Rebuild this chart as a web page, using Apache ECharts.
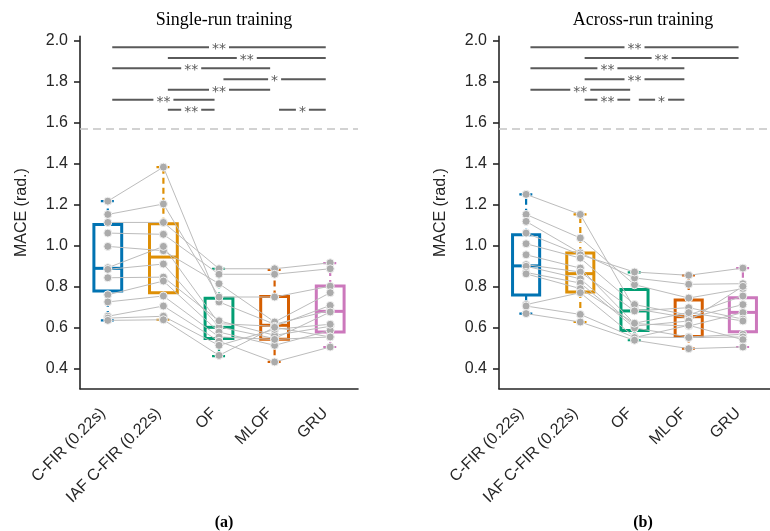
<!DOCTYPE html>
<html>
<head>
<meta charset="utf-8">
<script src="https://cdn.jsdelivr.net/npm/echarts@6/dist/echarts.min.js"></script>
<style>
  html, body { margin: 0; padding: 0; background: #fff; }
  #chart { width: 770px; height: 531px; }
</style>
</head>
<body>
<div id="chart"></div>
<script>
// categories and colours
const methods = ['C-FIR (0.22s)', 'IAF C-FIR (0.22s)', 'OF', 'MLOF', 'GRU'];
const colors = ['#0173B2', '#DE8F05', '#029E73', '#D55E00', '#CC78BC'];
const yTicks = [0.4, 0.6, 0.8, 1.0, 1.2, 1.4, 1.6, 1.8, 2.0];

// (a) single-run training, one value per subject (same order in every array)
const singleCFIR = [1.216, 1.151, 1.112, 1.060, 0.995, 0.891, 0.883, 0.842, 0.759, 0.724, 0.654, 0.645, 0.634];
const singleIAF  = [1.382, 1.202, 1.112, 1.054, 0.974, 0.995, 0.909, 0.845, 0.826, 0.753, 0.704, 0.654, 0.637];
const singleOF   = [0.724, 0.748, 0.886, 0.859, 0.813, 0.618, 0.602, 0.632, 0.577, 0.553, 0.532, 0.512, 0.463];
const singleMLOF = [0.615, 0.748, 0.886, 0.859, 0.626, 0.605, 0.545, 0.561, 0.512, 0.541, 0.431, 0.590, 0.600];
const singleGRU  = [0.683, 0.801, 0.915, 0.886, 0.769, 0.707, 0.675, 0.605, 0.585, 0.553, 0.504, 0.615, 0.553];
// box stats [min, q1, median, q3, max]
const singleBox = [
  [0.634, 0.777, 0.888, 1.102, 1.216],
  [0.637, 0.769, 0.943, 1.105, 1.382],
  [0.459, 0.545, 0.600, 0.742, 0.886],
  [0.431, 0.542, 0.610, 0.750, 0.880],
  [0.504, 0.577, 0.678, 0.802, 0.913]
];
const singleSigPairs = [[0, 4, '**'], [1, 4, '**'], [0, 3, '**'], [2, 4, '*'], [1, 3, '**'], [0, 2, '**'], [1, 2, '**'], [3, 4, '*']];
const singleSigY = [1.967, 1.914, 1.865, 1.811, 1.760, 1.711, 1.662, 1.662];

// (b) across-run training
const acrossCFIR = [1.249, 1.151, 1.117, 1.060, 1.008, 0.954, 0.906, 0.898, 0.868, 0.861, 0.711, 0.704, 0.667];
const acrossIAF  = [1.151, 1.036, 0.963, 0.954, 0.938, 0.889, 0.870, 0.837, 0.816, 0.789, 0.769, 0.663, 0.626];
const acrossOF   = [0.691, 0.808, 0.841, 0.870, 0.711, 0.618, 0.680, 0.606, 0.597, 0.620, 0.553, 0.550, 0.537];
const acrossMLOF = [0.646, 0.743, 0.810, 0.854, 0.660, 0.606, 0.696, 0.631, 0.553, 0.672, 0.550, 0.610, 0.496];
const acrossGRU  = [0.711, 0.789, 0.813, 0.889, 0.753, 0.672, 0.640, 0.800, 0.566, 0.631, 0.553, 0.540, 0.504];
const acrossBox = [
  [0.667, 0.758, 0.900, 1.052, 1.249],
  [0.626, 0.772, 0.862, 0.963, 1.151],
  [0.537, 0.585, 0.680, 0.785, 0.868],
  [0.496, 0.555, 0.652, 0.733, 0.854],
  [0.504, 0.578, 0.673, 0.745, 0.889]
];
const acrossSigPairs = [[0, 4, '**'], [1, 4, '**'], [0, 3, '**'], [1, 3, '**'], [0, 2, '**'], [1, 2, '**'], [2, 3, '*']];
const acrossSigY = [1.967, 1.914, 1.865, 1.811, 1.760, 1.711, 1.711];

const chance = Math.PI / 2;

const panels = [
  { cols: [singleCFIR, singleIAF, singleOF, singleMLOF, singleGRU], box: singleBox, pairs: singleSigPairs, sigY: singleSigY },
  { cols: [acrossCFIR, acrossIAF, acrossOF, acrossMLOF, acrossGRU], box: acrossBox, pairs: acrossSigPairs, sigY: acrossSigY }
];

function boxRender(params, api) {
  const i = api.value(0);
  const lo = api.value(1), q1 = api.value(2), med = api.value(3), q3 = api.value(4), hi = api.value(5);
  const band = api.size([1, 0])[0];
  const x = api.coord([i, med])[0];
  const half = band * 0.25, cap = half * 0.5;
  const y = v => api.coord([i, v])[1];
  const c = colors[i];
  const solid = { stroke: c, lineWidth: 3, fill: null };
  const dashed = { stroke: c, lineWidth: 2.2, lineDash: [6, 4], fill: null };
  return {
    type: 'group',
    children: [
      { type: 'line', shape: { x1: x, y1: y(q3), x2: x, y2: y(hi) }, style: dashed },
      { type: 'line', shape: { x1: x, y1: y(q1), x2: x, y2: y(lo) }, style: dashed },
      { type: 'line', shape: { x1: x - cap, y1: y(hi), x2: x + cap, y2: y(hi) }, style: { stroke: c, lineWidth: 2.2, lineDash: [5, 3] } },
      { type: 'line', shape: { x1: x - cap, y1: y(lo), x2: x + cap, y2: y(lo) }, style: { stroke: c, lineWidth: 2.2, lineDash: [5, 3] } },
      { type: 'rect', shape: { x: x - half, y: y(q3), width: half * 2, height: y(q1) - y(q3) }, style: solid },
      { type: 'line', shape: { x1: x - half, y1: y(med), x2: x + half, y2: y(med) }, style: solid }
    ]
  };
}

function sigRender(pairs) {
  return function (params, api) {
    const p = pairs[params.dataIndex];
    const band = api.size([1, 0])[0];
    const yv = api.value(1);
    const x1 = api.coord([p[0], yv])[0] + band * 0.08;
    const x2 = api.coord([p[1], yv])[0] - band * 0.08;
    const yy = api.coord([p[0], yv])[1];
    const xm = (x1 + x2) / 2;
    const gap = p[2] === '**' ? 10 : 6.5;
    const st = { stroke: '#5a5a5a', lineWidth: 2 };
    return {
      type: 'group',
      children: [
        { type: 'line', shape: { x1: x1, y1: yy, x2: xm - gap, y2: yy }, style: st },
        { type: 'line', shape: { x1: xm + gap, y1: yy, x2: x2, y2: yy }, style: st },
        { type: 'text', x: xm, y: yy + 2.5, style: { text: p[2], fill: '#5a5a5a', font: '14px "DejaVu Sans", sans-serif', textAlign: 'center', textVerticalAlign: 'middle' } }
      ]
    };
  };
}

const grids = [
  { left: 80, top: 36.4, width: 278, height: 352.4 },
  { left: 499, top: 36.4, width: 278, height: 352.4 }
];

const axisLine = { lineStyle: { color: '#262626', width: 1.6 } };
const axisTick = { lineStyle: { color: '#262626', width: 1.6 }, length: 6 };
const fontFam = '"Liberation Sans", Arial, sans-serif';

const xAxes = grids.map((g, k) => ({
  type: 'category', gridIndex: k, data: methods, boundaryGap: true,
  axisLine: axisLine, axisTick: { ...axisTick, alignWithLabel: true, length: 7 },
  axisLabel: { rotate: 45, fontSize: 16, color: '#262626', fontFamily: fontFam, margin: 17, padding: [0, 7, 0, 0], interval: 0 },
  splitLine: { show: false }
}));
const yAxes = grids.map((g, k) => ({
  type: 'value', gridIndex: k, min: 0.3, max: 2.02,
  name: 'MACE (rad.)', nameLocation: 'middle', nameGap: 50,
  nameTextStyle: { fontSize: 16, color: '#262626', fontFamily: fontFam },
  axisLine: { show: true, ...axisLine },
  axisTick: { show: true, ...axisTick, customValues: yTicks },
  axisLabel: { fontSize: 16, color: '#262626', fontFamily: fontFam, margin: 12, customValues: yTicks, formatter: v => v.toFixed(1) },
  splitLine: { show: false }
}));

const series = [];
panels.forEach((pn, k) => {
  series.push({
    type: 'custom', xAxisIndex: k, yAxisIndex: k, z: 2,
    renderItem: boxRender,
    encode: { x: 0, y: [1, 2, 3, 4, 5] },
    data: pn.box.map((b, i) => [i].concat(b)),
    markLine: {
      silent: true, symbol: 'none', label: { show: false },
      lineStyle: { color: '#c4c4c4', width: 1.6, type: [8, 5] },
      data: [{ yAxis: chance }]
    }
  });
  const n = pn.cols[0].length;
  for (let s = 0; s < n; s++) {
    series.push({
      type: 'line', xAxisIndex: k, yAxisIndex: k, z: 3,
      data: pn.cols.map(col => col[s]),
      symbol: 'circle', symbolSize: 8, showSymbol: true,
      itemStyle: { color: '#ababab', borderColor: '#f2f2f2', borderWidth: 1 },
      lineStyle: { color: '#bcbcbc', width: 1 },
      silent: true
    });
  }
  series.push({
    type: 'custom', xAxisIndex: k, yAxisIndex: k, z: 4,
    renderItem: sigRender(pn.pairs),
    data: pn.pairs.map((p, r) => [p[0], pn.sigY[r]])
  });
});

const chart = echarts.init(document.getElementById('chart'), null, { renderer: 'canvas' });
chart.setOption({
  animation: false,
  backgroundColor: '#fff',
  title: [
    { text: 'Single-run training', left: 219, top: 6, textAlign: 'center', textStyle: { fontFamily: '"Liberation Serif", "Times New Roman", serif', fontWeight: 'normal', fontSize: 18, color: '#000' } },
    { text: 'Across-run training', left: 638, top: 6, textAlign: 'center', textStyle: { fontFamily: '"Liberation Serif", "Times New Roman", serif', fontWeight: 'normal', fontSize: 18, color: '#000' } },
    { text: '(a)', left: 219, top: 510, textAlign: 'center', textStyle: { fontFamily: '"Liberation Serif", "Times New Roman", serif', fontWeight: 'bold', fontSize: 16, color: '#000' } },
    { text: '(b)', left: 638, top: 510, textAlign: 'center', textStyle: { fontFamily: '"Liberation Serif", "Times New Roman", serif', fontWeight: 'bold', fontSize: 16, color: '#000' } }
  ],
  grid: grids,
  xAxis: xAxes,
  yAxis: yAxes,
  series: series
});
</script>
</body>
</html>
